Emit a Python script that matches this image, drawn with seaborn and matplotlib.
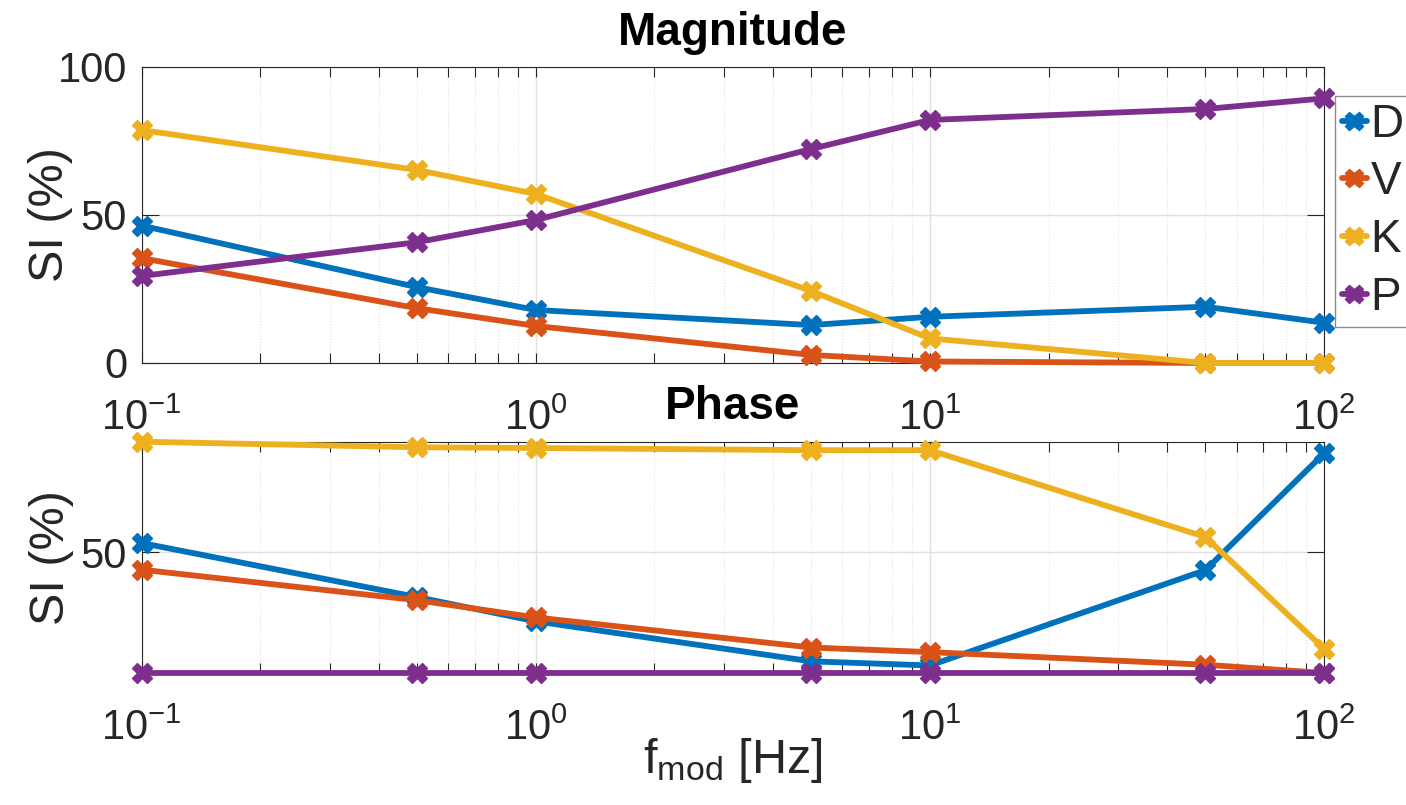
import matplotlib
matplotlib.use("Agg")
import numpy as np
import pandas as pd
import matplotlib.pyplot as plt
import seaborn as sns
from matplotlib.lines import Line2D
from matplotlib.ticker import LogLocator, NullFormatter, FixedLocator

# Modulation frequencies [Hz]
freq = [0.1, 0.5, 1, 5, 10, 50, 100]
params = ["D", "V", "K", "P"]

# Sensitivity index of the magnitude (%)
mag_D = [46.4, 25.6, 17.9, 12.8, 15.6, 19.0, 13.6]
mag_V = [35.4, 18.5, 12.5, 2.7, 0.5, 0.0, 0.0]
mag_K = [78.7, 65.2, 57.1, 24.3, 8.3, 0.0, 0.0]
mag_P = [29.4, 40.8, 48.3, 72.3, 82.1, 85.8, 89.4]

# Sensitivity index of the phase (%)
pha_D = [53.8, 31.5, 21.5, 5.0, 3.3, 42.6, 90.8]
pha_V = [42.8, 30.2, 23.1, 10.7, 8.8, 3.6, 0.2]
pha_K = [95.6, 93.3, 93.0, 92.1, 92.1, 56.3, 10.2]
pha_P = [0.2, 0.2, 0.2, 0.2, 0.2, 0.2, 0.2]

colors = ["#0072BD", "#D95319", "#EDB120", "#7E2F8E"]


def long_form(series):
    rows = []
    for name, vals in zip(params, series):
        for f, v in zip(freq, vals):
            rows.append({"f": f, "SI": v, "param": name})
    return pd.DataFrame(rows)


mag_df = long_form([mag_D, mag_V, mag_K, mag_P])
pha_df = long_form([pha_D, pha_V, pha_K, pha_P])

sns.set_style("ticks")
plt.rcParams["font.family"] = ["Liberation Sans", "DejaVu Sans"]
plt.rcParams["mathtext.fontset"] = "custom"
plt.rcParams["mathtext.rm"] = "Liberation Sans"
plt.rcParams["mathtext.it"] = "Liberation Sans:italic"
plt.rcParams["mathtext.bf"] = "Liberation Sans:bold"
plt.rcParams["mathtext.default"] = "regular"

fig = plt.figure(figsize=(14.06, 8.05), dpi=100)
ax_mag = fig.add_axes([0.1008, 0.5491, 0.8409, 0.3677])
ax_pha = fig.add_axes([0.1008, 0.1640, 0.8409, 0.2873])

axis_col = "#262626"
LW = 4.2
MS = 14

for ax, df in ((ax_mag, mag_df), (ax_pha, pha_df)):
    ax.set_xscale("log")
    sns.lineplot(data=df, x="f", y="SI", hue="param", hue_order=params,
                 palette=colors, style="param", style_order=params,
                 markers={p: "X" for p in params}, dashes=False,
                 linewidth=LW, markersize=MS, errorbar=None,
                 legend=False, ax=ax, zorder=4)
    for ln in ax.lines:
        ln.set_markeredgecolor(ln.get_color())
        ln.set_markeredgewidth(1.0)
        ln.set_clip_on(False)

    ax.set_xlim(freq[0], freq[-1])
    ax.xaxis.set_major_locator(LogLocator(base=10, numticks=10))
    ax.xaxis.set_minor_locator(LogLocator(base=10, subs=np.arange(2, 10), numticks=20))
    ax.xaxis.set_minor_formatter(NullFormatter())
    ax.yaxis.set_major_locator(FixedLocator([0, 50, 100]))

    ax.grid(True, which="major", axis="both", color="#e0e0e0", lw=1.0, ls="-")
    ax.grid(True, which="minor", axis="x", color="#e2e2e2", lw=0.8, ls=":")
    ax.set_axisbelow(True)

    for sp in ax.spines.values():
        sp.set_visible(True)
        sp.set_color(axis_col)
        sp.set_linewidth(0.8)

    ax.tick_params(axis="both", which="both", direction="in", top=True,
                   right=True, colors=axis_col, labelcolor=axis_col,
                   labelsize=30, width=0.8)
    ax.tick_params(axis="x", which="both", length=7, pad=26)
    ax.tick_params(axis="y", which="major", length=12, pad=10.5)
    ax.set_xlabel("")

ax_mag.set_ylabel("SI (%)", fontsize=35, color=axis_col, labelpad=-11)
ax_pha.set_ylabel("SI (%)", fontsize=35, color=axis_col, labelpad=5)

ax_mag.set_ylim(0, 100)
ax_pha.set_ylim(min(min(pha_D), min(pha_V), min(pha_K), min(pha_P)),
                max(max(pha_D), max(pha_V), max(pha_K), max(pha_P)))

ax_mag.set_title("Magnitude", fontsize=33, fontweight="bold", color="black", pad=16)
ax_pha.set_title("Phase", fontsize=33, fontweight="bold", color="black", pad=16)
ax_pha.set_xlabel(r"f$_{\mathrm{mod}}$ [Hz]", fontsize=35, color=axis_col, labelpad=-10)

handles = [Line2D([], [], color=c, lw=LW, marker="X", markersize=MS - 1,
                  markeredgecolor=c) for c in colors]
leg = fig.legend(handles, params, loc="upper left",
                 bbox_to_anchor=(0.9495, 0.881), fontsize=33,
                 frameon=True, fancybox=False, framealpha=1,
                 edgecolor="#8c8c8c", handlelength=0.55, handletextpad=0.08,
                 labelspacing=0.30, borderpad=0.15, borderaxespad=0)
leg.get_frame().set_linewidth(1.0)

fig.savefig("out.png", dpi=100)
